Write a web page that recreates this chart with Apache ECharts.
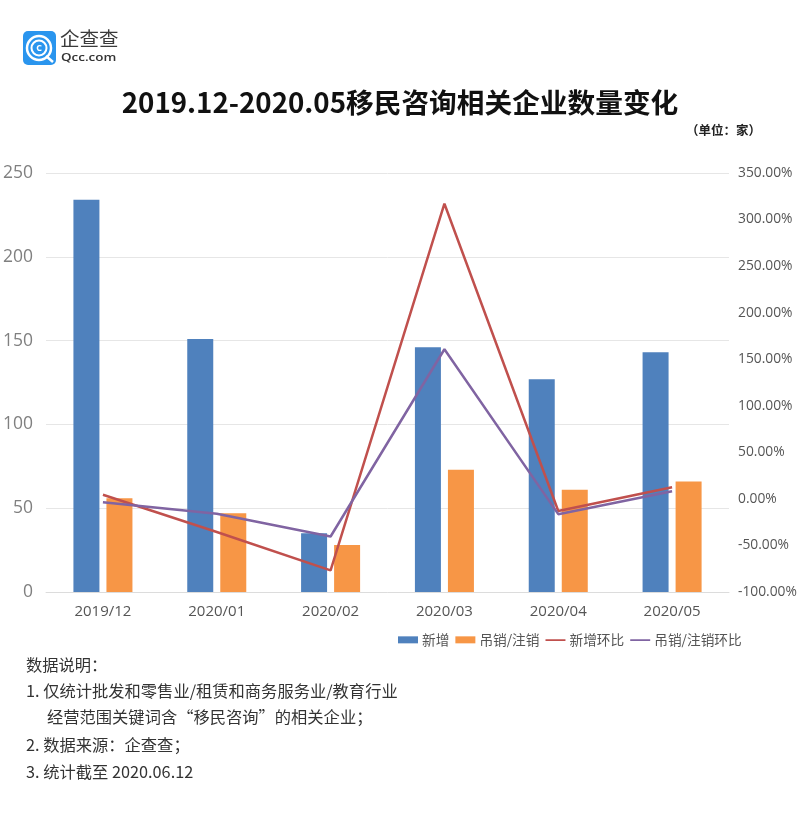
<!DOCTYPE html>
<html><head><meta charset="utf-8">
<style>html,body{margin:0;padding:0;background:#fff}#c{width:800px;height:830px}</style>
<script src="https://cdn.jsdelivr.net/npm/echarts@6/dist/echarts.min.js"></script>
</head><body><div id="c"></div>
<script>
const categories = ['2019/12','2020/01','2020/02','2020/03','2020/04','2020/05'];
const newCount = [234,151,35,146,127,143];
const revoked = [56,47,28,73,61,66];
const newRatio = [4.5,-35.5,-76.8,317,-13,12.6];
const revokedRatio = [-3.5,-16,-40.4,160.7,-16.4,8.2];
const titleText = '2019.12-2020.05移民咨询相关企业数量变化';
const unitText = '（单位：家）';
const notes = ['数据说明：','1. 仅统计批发和零售业/租赁和商务服务业/教育行业','经营范围关键词含“移民咨询”的相关企业；','2. 数据来源：企查查；','3. 统计截至 2020.06.12'];
const noteX = [26,26,47,26,26];
const noteY = [657,683,709,737,764];
const cjk = '"Noto Sans CJK SC","Noto Sans",sans-serif';
const lineIcon = 'path://M0,0h.01v.01h-.01zM0,3H20V4.6H0ZM0,7h.01v.01h-.01z';
const chart = echarts.init(document.getElementById('c'),null,{renderer:'canvas'});
chart.setOption({
  animation:false,
  backgroundColor:'#fff',
  title:{text:titleText,left:395,top:84,textAlign:'center',textStyle:{fontFamily:cjk,fontSize:27.7,fontWeight:'bold',color:'#111'}},
  legend:{left:393,top:628,itemGap:6,itemWidth:20,itemHeight:7,textStyle:{fontFamily:cjk,fontSize:13.7,color:'#555',padding:[0,0,0,-1]},
    data:[{name:'新增',icon:'rect'},{name:'吊销/注销',icon:'rect'},{name:'新增环比',icon:lineIcon},{name:'吊销/注销环比',icon:lineIcon}]},
  grid:{left:46,right:71,top:173,bottom:238,containLabel:false},
  xAxis:{type:'category',data:categories,axisTick:{show:false},
    axisLine:{lineStyle:{color:'#dcdcdc',width:1}},
    axisLabel:{fontFamily:'"Open Sans","Noto Sans",sans-serif',fontSize:15,color:'#555',margin:12}},
  yAxis:[
    {type:'value',min:0,max:250,interval:50,axisLine:{show:false},axisTick:{show:false},
     splitLine:{lineStyle:{color:'#e6e6e6',width:1}},
     axisLabel:{fontFamily:'"Open Sans",sans-serif',fontSize:17.5,color:'#808080',margin:13}},
    {type:'value',min:-100,max:350,interval:50,axisLine:{show:false},axisTick:{show:false},splitLine:{show:false},
     axisLabel:{fontFamily:'"Open Sans",sans-serif',fontSize:13.8,color:'#555',margin:9,formatter:v=>v.toFixed(2)+'%'}}
  ],
  series:[
    {name:'新增',type:'bar',data:newCount,barWidth:26,barGap:'27%',itemStyle:{color:'#4f81bd'}},
    {name:'吊销/注销',type:'bar',data:revoked,barWidth:26,itemStyle:{color:'#f79646'}},
    {name:'新增环比',type:'line',yAxisIndex:1,data:newRatio,symbol:'none',lineStyle:{color:'#c0504d',width:2.5},itemStyle:{color:'#c0504d'}},
    {name:'吊销/注销环比',type:'line',yAxisIndex:1,data:revokedRatio,symbol:'none',lineStyle:{color:'#8064a2',width:2.5},itemStyle:{color:'#8064a2'}}
  ],
  graphic:[
    {type:'rect',shape:{x:23,y:31,width:33,height:34,r:5},style:{fill:'#2a95ee'}},
    {type:'circle',shape:{cx:39,cy:48,r:12},style:{fill:'none',stroke:'#fff',lineWidth:2.5}},
    {type:'circle',shape:{cx:39,cy:48,r:7.5},style:{fill:'none',stroke:'#fff',lineWidth:2}},
    {type:'line',shape:{x1:46,y1:56,x2:53,y2:62},style:{stroke:'#fff',lineWidth:2.5}},
    {type:'text',x:39,y:48,style:{text:'C',fill:'#fff',font:'bold 9px "Open Sans",sans-serif',align:'center',verticalAlign:'middle'}},
    {type:'text',x:60,y:29,style:{text:'企查查',fill:'#3a3a3a',font:'19.5px '+cjk}},
    {type:'text',x:61,y:53,scaleX:1.28,style:{text:'Qcc.com',fill:'#333',font:'600 10.5px "Open Sans",sans-serif'}},
    {type:'text',x:686,y:124,style:{text:unitText,fill:'#222',font:'bold 12.5px '+cjk}},
    ...notes.map((t,i)=>({type:'text',x:noteX[i],y:noteY[i],scaleX:1.017,style:{text:t,fill:'#333',font:'16px '+cjk}}))
  ]
});
</script></body></html>
